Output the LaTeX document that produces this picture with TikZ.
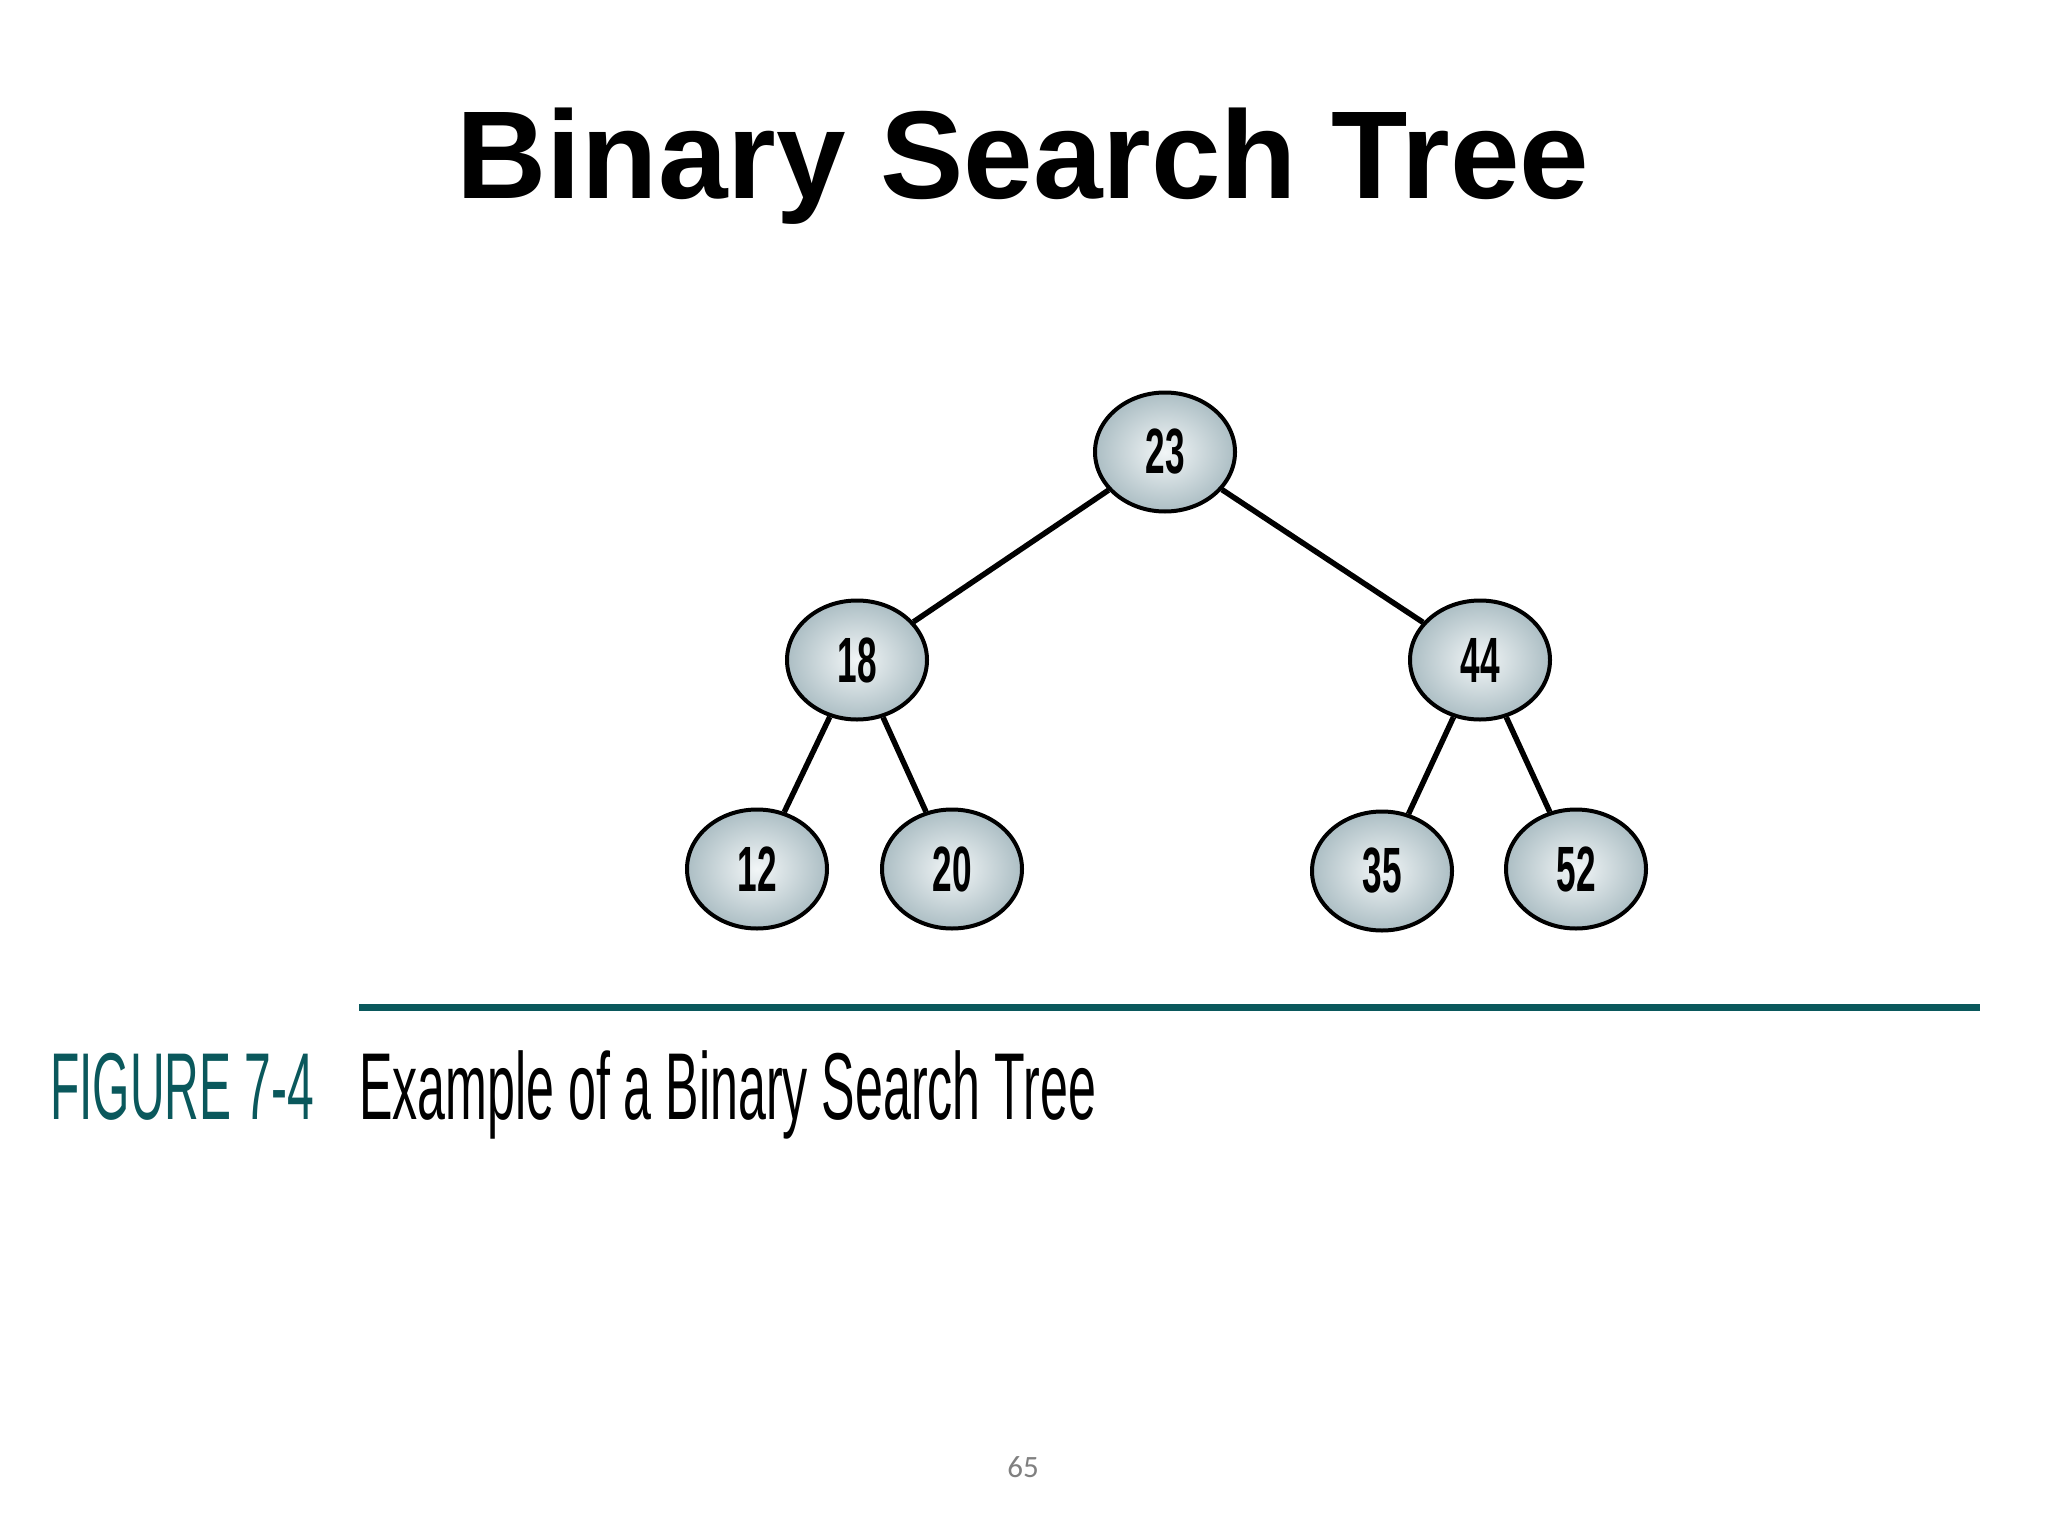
\documentclass[tikz,border=0pt]{standalone}
\usepackage{fontspec}
\usetikzlibrary{shapes.geometric}
\setmainfont{Liberation Sans}
\newfontfamily\pagefont{Carlito}
\definecolor{tealcap}{RGB}{10,88,92}
\definecolor{nodeout}{RGB}{172,190,196}
\definecolor{nodein}{RGB}{242,246,247}
\definecolor{pagegray}{RGB}{128,128,128}
\begin{document}
\begin{tikzpicture}[x=1pt,y=-1pt,
  bstnode/.style={ellipse,draw=black,line width=4pt,minimum width=140pt,minimum height=119pt,
    inner sep=0pt,inner color=nodein,outer color=nodeout,
    font=\fontsize{64pt}{64pt}\selectfont\bfseries},
  edge/.style={draw=black,line width=5.5pt}]
\useasboundingbox (0,0) rectangle (2048,1536);
\fill[white] (0,0) rectangle (2048,1536);
\node[anchor=base,font=\fontsize{125pt}{125pt}\selectfont\bfseries] (title) at (1023,198) {Binary Search Tree};
\node[bstnode] (n23) at (1165,452) {\scalebox{0.55}[1]{23}};
\node[bstnode] (n18) at (857,660) {\scalebox{0.55}[1]{18}};
\node[bstnode] (n44) at (1480,660) {\scalebox{0.55}[1]{44}};
\node[bstnode] (n12) at (757,869) {\scalebox{0.55}[1]{12}};
\node[bstnode] (n20) at (952,869) {\scalebox{0.55}[1]{20}};
\node[bstnode] (n35) at (1382,871) {\scalebox{0.55}[1]{35}};
\node[bstnode] (n52) at (1576,869) {\scalebox{0.55}[1]{52}};
\draw[edge] (n23) -- (n18);
\draw[edge] (n23) -- (n44);
\draw[edge] (n18) -- (n12);
\draw[edge] (n18) -- (n20);
\draw[edge] (n44) -- (n35);
\draw[edge] (n44) -- (n52);
\coordinate (rl) at (359,1007);
\coordinate (rr) at (1980,1007);
\draw[tealcap,line width=7pt] (rl) -- (rr);
\node[anchor=base west,inner sep=0pt,text=tealcap,font=\fontsize{95pt}{95pt}\selectfont] (fig) at (50,1119) {\scalebox{0.505}[1]{FIGURE 7-4}};
\node[anchor=base west,inner sep=0pt,font=\fontsize{95pt}{95pt}\selectfont] (cap) at (359,1119) {\scalebox{0.528}[1]{Example of a Binary Search Tree}};
\node[anchor=base,text=pagegray,font=\pagefont\fontsize{31pt}{31pt}\selectfont] (pg) at (1023,1477) {65};
\end{tikzpicture}
\end{document}
